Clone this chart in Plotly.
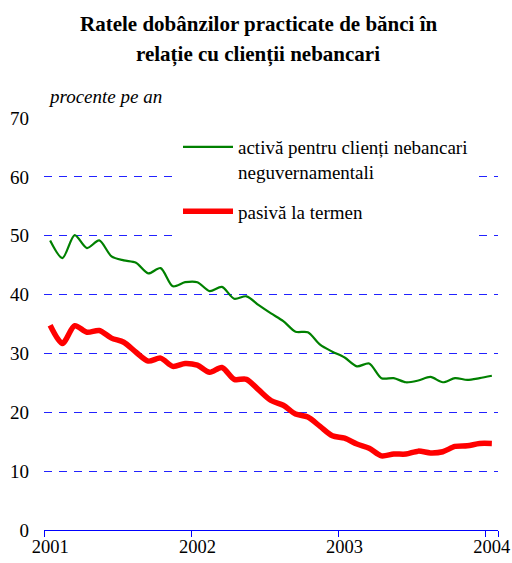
import plotly.graph_objects as go

months = [f"{y}-{m:02d}" for y in (2001, 2002, 2003) for m in range(1, 13)] + ["2004-01"]

activa = [49.2, 46.2, 50.1, 47.9, 49.2, 46.5, 45.8, 45.4, 43.6, 44.5, 41.4, 42.1,
          42.1, 40.6, 41.3, 39.3, 39.7, 38.2, 36.8, 35.5, 33.7, 33.6, 31.5, 30.3,
          29.3, 27.8, 28.3, 25.8, 25.8, 25.1, 25.4, 26.0, 25.1, 25.8, 25.5, 25.8, 26.2]

pasiva = [34.8, 31.7, 34.7, 33.6, 33.9, 32.6, 31.9, 30.2, 28.7, 29.2, 27.8, 28.3,
          28.0, 26.8, 27.6, 25.6, 25.6, 23.8, 22.0, 21.2, 19.7, 19.2, 17.6, 16.0,
          15.6, 14.6, 13.9, 12.6, 12.9, 12.9, 13.4, 13.1, 13.3, 14.2, 14.3, 14.7, 14.7]

year_ticks = ["2001-01", "2002-01", "2003-01", "2004-01"]
year_labels = ["2001", "2002", "2003", "2004"]
y_ticks = [0, 10, 20, 30, 40, 50, 60, 70]

FONT = "Liberation Serif"
W, H = 512, 563
ML, MR, MT, MB = 44, 14, 118, 33
PW, PH = W - ML - MR, H - MT - MB


def px_x(x):
    return (x - ML) / PW


def px_y(y):
    return (H - MB - y) / PH


def cat_x(x):
    # pixel -> category-axis coordinate (range -0.5 .. 36.5)
    return -0.5 + 37 * (x - ML) / PW


def val_y(y):
    # pixel -> y-axis value (range 0 .. 70)
    return 70 * (H - MB - y) / PH


fig = go.Figure()
fig.add_trace(go.Scatter(
    x=months, y=activa, mode="lines",
    name="activă pentru clienți nebancari<br>neguvernamentali",
    line=dict(color="#008000", width=2.2, shape="spline", smoothing=0.8),
    legendgroup="a",
))
fig.add_trace(go.Scatter(
    x=months, y=pasiva, mode="lines",
    name="pasivă la termen",
    line=dict(color="#ff0000", width=5.5, shape="spline", smoothing=0.8),
    legendgroup="b",
))

# white backing of the legend area (hides the gridlines behind it, as in the original)
fig.add_shape(type="rect", xref="x", yref="y",
              x0=cat_x(175), x1=cat_x(473), y0=val_y(244), y1=val_y(126),
              fillcolor="white", line=dict(width=0), layer="between")

fig.update_layout(
    width=W, height=H,
    margin=dict(l=ML, r=MR, t=MT, b=MB),
    paper_bgcolor="white", plot_bgcolor="white",
    font=dict(family=FONT, size=19, color="black"),
    showlegend=True,
    legend=dict(
        x=px_x(178), y=px_y(128), xanchor="left", yanchor="top",
        bgcolor="white", borderwidth=0,
        font=dict(family=FONT, size=19, color="black"),
        valign="top", itemwidth=50, tracegroupgap=12,
        traceorder="grouped",
    ),
    xaxis=dict(
        type="category", categoryorder="array", categoryarray=months,
        range=[-0.5, 36.5], automargin=False,
        tickmode="array", tickvals=year_ticks, ticktext=year_labels,
        tickson="boundaries", tickangle=0,
        ticks="outside", ticklen=6, tickcolor="#0000ff", tickwidth=1.2,
        showline=True, linecolor="#0000ff", linewidth=1.2,
        showgrid=False, zeroline=False,
        tickfont=dict(family=FONT, size=18.5),
    ),
    yaxis=dict(
        range=[0, 70], tickmode="array", tickvals=y_ticks, automargin=False,
        showgrid=True, gridcolor="#2222ff", gridwidth=1, griddash="8px,7px",
        zeroline=False, showline=False, ticks="",
        ticklabelstandoff=14,
        tickfont=dict(family=FONT, size=19),
    ),
    annotations=[
        dict(text="<b>Ratele dobânzilor practicate de bănci în</b>", xref="paper", yref="paper",
             x=px_x(258), y=px_y(24), xanchor="center", yanchor="middle",
             showarrow=False, font=dict(family=FONT, size=21, color="black")),
        dict(text="<b>relație cu clienții nebancari</b>", xref="paper", yref="paper",
             x=px_x(258), y=px_y(54), xanchor="center", yanchor="middle",
             showarrow=False, font=dict(family=FONT, size=21, color="black")),
        dict(text="<i>procente pe an</i>", xref="paper", yref="paper",
             x=px_x(46), y=px_y(97), xanchor="left", yanchor="middle",
             showarrow=False, font=dict(family=FONT, size=19, color="black")),
    ],
)

fig.write_html("out.html", config={"displayModeBar": False},
               post_script="document.body.style.margin='0';document.body.style.padding='0';")
